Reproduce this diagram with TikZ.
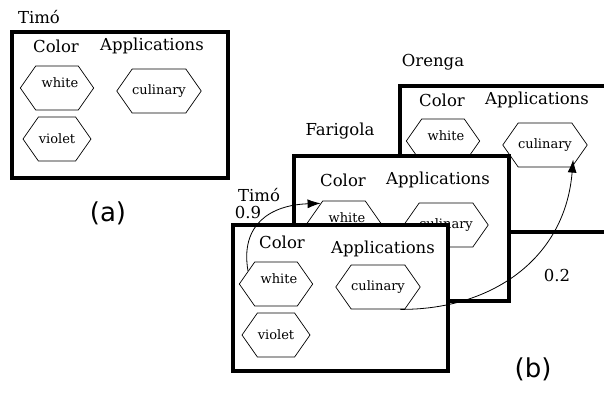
\documentclass[tikz,border=0pt]{standalone}
\usepackage{fontspec}
\setmainfont{DejaVu Serif}
\newfontfamily\serf{DejaVu Serif}
\newfontfamily\labfont{DejaVu Sans}
\usetikzlibrary{shapes.symbols,arrows.meta}
\newcommand{\wlab}{\hspace{6pt}\raisebox{5pt}[\height][\depth]{white}}
\tikzset{
  hexa/.style={shape=signal, signal to=west and east, signal pointer angle=110,
    draw, line width=0.7pt, fill=white, minimum height=44pt, inner sep=0pt,
    font=\serf\fontsize{13}{15}\selectfont},
  hexs/.style={hexa, minimum width=68pt},
  hexl/.style={hexa, minimum width=81pt},
  panel/.style={draw, line width=4pt, fill=white},
  ttl/.style={font=\serf\fontsize{16.5}{19}\selectfont, inner sep=0pt},
  big/.style={font=\labfont\fontsize{26}{30}\selectfont, inner sep=0pt},
  conn/.style={line width=0.8pt, -{Latex[length=13pt,width=9pt]}}
}
\begin{document}
\begin{tikzpicture}[x=1pt,y=-1pt]
\clip (0,0) rectangle (604,392);
\fill[white] (0,0) rectangle (604,392);
% (a)
\node[ttl] (aname) at (39,17) {Timó};
\draw[panel] (12,32) rectangle (228,178);
\node[ttl] (acol) at (56,46) {Color};
\node[ttl] (aapp) at (152,46) {Applications};
\node[hexs] (aw) at (57,88) {\wlab};
\node[hexs] (av) at (57,139) {violet};
\node[hexl] (ac) at (159,91) {culinary};
\node[big] (la) at (108,213) {(a)};
% Orenga
\node[ttl] (oname) at (433,62) {Orenga};
\draw[panel] (400,86) rectangle (630,232);
\node[ttl] (ocol) at (442,100) {Color};
\node[ttl] (oapp) at (537,100) {Applications};
\node[hexs] (ow) at (443,141) {\wlab};
\node[hexl] (oc) at (545,145) {culinary};
% Farigola
\node[ttl] (fname) at (340,131) {Farigola};
\draw[panel] (294,156) rectangle (509,301);
\node[ttl] (fcol) at (343,180) {Color};
\node[ttl] (fapp) at (438,180) {Applications};
\node[hexs] (fw) at (344,223) {\wlab};
\node[hexl] (fc) at (446,225) {culinary};
% Timo
\node[ttl] (tname) at (259,195) {Timó};
\node[ttl] (p9) at (248,212) {0.9};
\draw[panel] (233,225) rectangle (448,371);
\node[ttl] (tcol) at (282,242) {Color};
\node[ttl] (tapp) at (383,249) {Applications};
\node[hexs] (tw) at (276,284) {\wlab};
\node[hexs] (tv) at (276,335) {violet};
\node[hexl] (tc) at (378,287) {culinary};
\node[ttl] (p2) at (557,275) {0.2};
\node[big] (lb) at (533,369) {(b)};
% connectors
\draw[conn] (tw.155) .. controls (240,225) and (270,205) .. (fw.140);
\draw[conn, shorten >=-7pt] (tc.-45) .. controls (490,310) and (565,260) .. (oc.-38);
\end{tikzpicture}
\end{document}
